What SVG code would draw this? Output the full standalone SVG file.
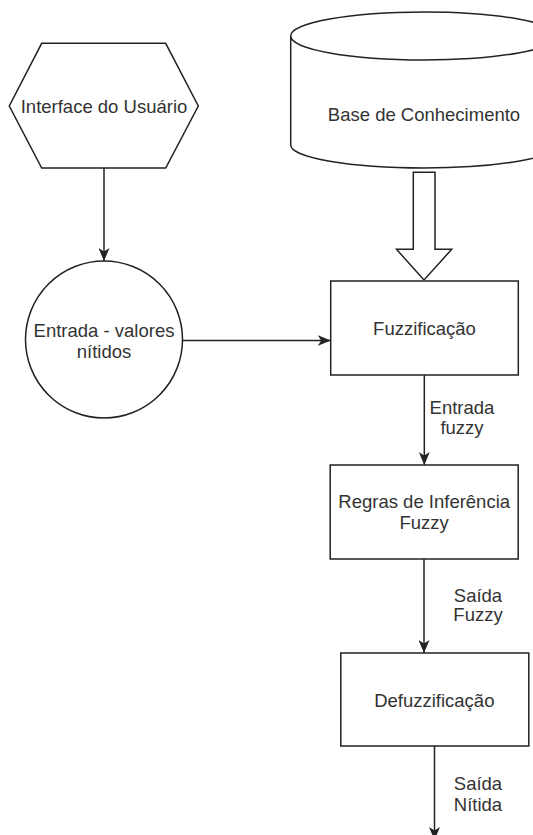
<svg xmlns="http://www.w3.org/2000/svg" width="533" height="835" viewBox="0 0 533 835">
<style>
.shape{fill:#fff;stroke:#222;stroke-width:1.5}
.edge{fill:none;stroke:#222;stroke-width:1.5}
text{font-family:"Liberation Sans",Arial,sans-serif;font-size:18.5px;fill:#333;text-anchor:middle}
</style>
<defs>
<marker id="arr" markerUnits="userSpaceOnUse" viewBox="0 0 13 11" refX="13" refY="5.5" markerWidth="13" markerHeight="11" orient="auto">
<path d="M0,0 L13,5.5 L0,11 L3.5,5.5 Z" fill="#222"/>
</marker>
</defs>
<rect width="533" height="835" fill="#fff"/>
<g id="interface">
<polygon class="shape" points="41.7,43.3 165.7,43.3 198.3,106 165.7,168 41.7,168 9.3,106"/>
<text x="104" y="113">Interface do Usuário</text>
</g>
<g id="base">
<path class="shape" d="M290.7,36 L290.7,145 A133.3,23 0 0 0 557.3,145 L557.3,36"/>
<ellipse class="shape" cx="424" cy="36" rx="133.3" ry="24"/>
<text x="424" y="120.5">Base de Conhecimento</text>
</g>
<g id="entrada">
<circle class="shape" cx="104" cy="339.5" r="78.5"/>
<text x="104" y="336.5">Entrada - valores</text>
<text x="104" y="357.5">nítidos</text>
</g>
<g id="fuzzificacao">
<rect class="shape" x="330.7" y="281" width="187.6" height="94"/>
<text x="424.5" y="335">Fuzzificação</text>
</g>
<g id="regras">
<rect class="shape" x="330.2" y="465" width="188" height="94"/>
<text x="424.2" y="507.5">Regras de Inferência</text>
<text x="424.2" y="528.5">Fuzzy</text>
</g>
<g id="defuzzificacao">
<rect class="shape" x="340.8" y="653" width="188" height="93"/>
<text x="434.3" y="706.5">Defuzzificação</text>
</g>
<g id="connectors">
<line class="edge" x1="104" y1="168" x2="104" y2="261" marker-end="url(#arr)"/>
<line class="edge" x1="182.5" y1="340.5" x2="330.7" y2="340.5" marker-end="url(#arr)"/>
<polygon class="shape" points="413.3,172.3 435,172.3 435,249.3 451.7,249.3 424,280 396.5,249.3 413.3,249.3"/>
<line class="edge" x1="424.3" y1="375" x2="424.3" y2="465" marker-end="url(#arr)"/>
<text x="462" y="414">Entrada</text>
<text x="462" y="434">fuzzy</text>
<line class="edge" x1="424" y1="559" x2="424" y2="653" marker-end="url(#arr)"/>
<text x="478" y="601.5">Saída</text>
<text x="478" y="621">Fuzzy</text>
<line class="edge" x1="434.5" y1="746" x2="434.5" y2="840" marker-end="url(#arr)"/>
<text x="478" y="790">Saída</text>
<text x="478" y="810.5">Nítida</text>
</g>
</svg>
